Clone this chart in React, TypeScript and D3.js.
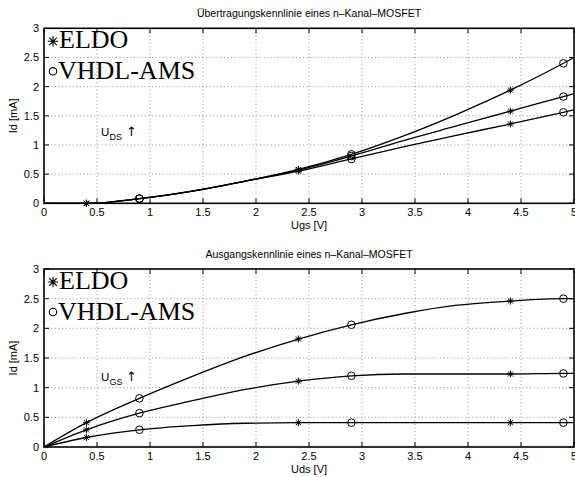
import React from 'react';
import * as d3 from 'd3';

// sample points shared by every curve (V)
const xs = [0, 0.4, 0.9, 1.4, 1.9, 2.4, 2.9, 3.4, 3.9, 4.4, 4.9, 5];

// Übertragungskennlinie: Id over Ugs for three Uds values
const transferHigh = [0, 0, 0.08, 0.21, 0.38, 0.58, 0.84, 1.16, 1.53, 1.94, 2.4, 2.5];
const transferMid = [0, 0, 0.08, 0.21, 0.38, 0.57, 0.81, 1.08, 1.33, 1.58, 1.83, 1.88];
const transferLow = [0, 0, 0.08, 0.21, 0.38, 0.55, 0.76, 0.97, 1.17, 1.36, 1.56, 1.6];

// Ausgangskennlinie: Id over Uds for three Ugs values
const outHigh = [0, 0.41, 0.82, 1.19, 1.53, 1.82, 2.06, 2.25, 2.39, 2.46, 2.5, 2.5];
const outMid = [0, 0.29, 0.57, 0.78, 0.97, 1.11, 1.2, 1.23, 1.23, 1.23, 1.24, 1.24];
const outLow = [0, 0.16, 0.29, 0.36, 0.4, 0.41, 0.41, 0.41, 0.41, 0.41, 0.41, 0.41];

// where the simulators put their markers
const eldoX = [0.4, 2.4, 4.4];
const vhdlX = [0.9, 2.9, 4.9];

const xTicks = [0, 0.5, 1, 1.5, 2, 2.5, 3, 3.5, 4, 4.5, 5];
const yTicks = [0, 0.5, 1, 1.5, 2, 2.5, 3];

const sans = '"Liberation Sans", Arial, sans-serif';
const serif = '"Liberation Serif", "Times New Roman", serif';

function starPath(x: number, y: number, r: number) {
  const d = r * 0.72;
  return `M${x - r},${y}L${x + r},${y}M${x},${y - r}L${x},${y + r}` +
    `M${x - d},${y - d}L${x + d},${y + d}M${x - d},${y + d}L${x + d},${y - d}`;
}

function Panel(props: any) {
  const { top, bottom, title, xLabel, series, annot, sub } = props;
  const left = 44, right = 574;
  const x = d3.scaleLinear().domain([0, 5]).range([left, right]);
  const y = d3.scaleLinear().domain([0, 3]).range([bottom, top]);
  const line = d3.line<number>()
    .x((_, i) => x(xs[i]))
    .y(d => y(d))
    .curve(d3.curveMonotoneX);
  const tl = 5;

  return (
    <g>
      {/* grid */}
      {xTicks.slice(1, -1).map(t => (
        <line key={'gx' + t} x1={x(t)} x2={x(t)} y1={top} y2={bottom}
          stroke="#777" strokeWidth={0.8} strokeDasharray="1,2.6" />
      ))}
      {yTicks.slice(1, -1).map(t => (
        <line key={'gy' + t} x1={left} x2={right} y1={y(t)} y2={y(t)}
          stroke="#777" strokeWidth={0.8} strokeDasharray="1,2.6" />
      ))}

      {/* curves */}
      {series.map((s: number[], i: number) => (
        <path key={'c' + i} d={line(s) || ''} fill="none" stroke="#000" strokeWidth={1.3} />
      ))}

      {/* markers */}
      {series.map((s: number[], i: number) => (
        <g key={'m' + i}>
          {eldoX.map(v => {
            const k = xs.indexOf(v);
            return <path key={'e' + v} d={starPath(x(v), y(s[k]), 3.5)} stroke="#000" strokeWidth={1} fill="none" />;
          })}
          {vhdlX.map(v => {
            const k = xs.indexOf(v);
            return <circle key={'v' + v} cx={x(v)} cy={y(s[k])} r={3.8} stroke="#000" strokeWidth={1} fill="none" />;
          })}
        </g>
      ))}

      {/* box and ticks */}
      <rect x={left} y={top} width={right - left} height={bottom - top} fill="none" stroke="#000" strokeWidth={1.6} />
      {xTicks.map(t => (
        <g key={'tx' + t}>
          <line x1={x(t)} x2={x(t)} y1={bottom} y2={bottom - tl} stroke="#000" strokeWidth={1} />
          <line x1={x(t)} x2={x(t)} y1={top} y2={top + tl} stroke="#000" strokeWidth={1} />
          <text x={x(t)} y={bottom + 13} textAnchor="middle" fontFamily={sans} fontSize={11}>{d3.format('~g')(t)}</text>
        </g>
      ))}
      {yTicks.map(t => (
        <g key={'ty' + t}>
          <line x1={left} x2={left + tl} y1={y(t)} y2={y(t)} stroke="#000" strokeWidth={1} />
          <line x1={right} x2={right - tl} y1={y(t)} y2={y(t)} stroke="#000" strokeWidth={1} />
          <text x={left - 5} y={y(t) + 4} textAnchor="end" fontFamily={sans} fontSize={11}>{d3.format('~g')(t)}</text>
        </g>
      ))}

      {/* labels */}
      <text x={(left + right) / 2} y={top - 11} textAnchor="middle" fontFamily={sans} fontSize={10.5}>{title}</text>
      <text x={(left + right) / 2} y={bottom + 26} textAnchor="middle" fontFamily={sans} fontSize={11}>{xLabel}</text>
      <text transform={`translate(17,${(top + bottom) / 2}) rotate(-90)`} textAnchor="middle" fontFamily={sans} fontSize={11}>Id [mA]</text>

      {/* annotation */}
      <text x={101} y={annot} fontFamily={sans} fontSize={11.5}>U</text>
      <text x={109.5} y={annot + 4} fontFamily={sans} fontSize={9}>{sub}</text>
      <text x={126} y={annot} fontFamily='"DejaVu Sans", sans-serif' fontSize={13}>↑</text>

      {/* legend */}
      <path d={starPath(53, top + 13, 5.2)} stroke="#000" strokeWidth={1.1} fill="none" />
      <text x={59} y={top + 20} fontFamily={serif} fontSize={26}>ELDO</text>
      <circle cx={53} cy={top + 43} r={3.7} stroke="#000" strokeWidth={1.1} fill="none" />
      <text x={58} y={top + 51} fontFamily={serif} fontSize={26}>VHDL-AMS</text>
    </g>
  );
}

export default function App() {
  return (
    <svg width={575} height={477} style={{ position: 'absolute', left: 0, top: 0, background: '#fff' }}>
      <rect width={575} height={477} fill="#fff" />
      <Panel top={28.3} bottom={203.3} title="Übertragungskennlinie eines n–Kanal–MOSFET"
        xLabel="Ugs [V]" series={[transferHigh, transferMid, transferLow]} annot={136} sub="DS" />
      <Panel top={269} bottom={447} title="Ausgangskennlinie eines n–Kanal–MOSFET"
        xLabel="Uds [V]" series={[outHigh, outMid, outLow]} annot={381} sub="GS" />
    </svg>
  );
}
